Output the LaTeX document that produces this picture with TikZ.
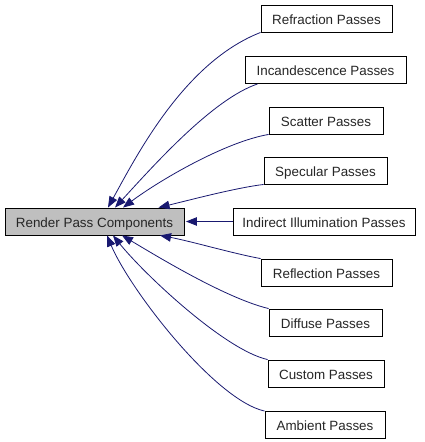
\documentclass[tikz,border=0pt]{standalone}
\usepackage{fontspec}
\setmainfont{Liberation Sans}
\usetikzlibrary{arrows.meta}
\definecolor{edgeblue}{HTML}{191970}
\definecolor{boxgray}{HTML}{BFBFBF}
\begin{document}
\begin{tikzpicture}[x=1pt,y=-1pt,
  box/.style={draw=black,line width=0.9pt,fill=white,inner sep=0pt,minimum height=27pt,
    text height=11.5pt,text depth=0pt,
    font=\fontsize{13.4}{15}\selectfont,text=black!85},
  mainbox/.style={box,fill=boxgray},
  edge/.style={draw=edgeblue,line width=0.8pt,-{Triangle[length=11pt,width=8.5pt]}}]
\useasboundingbox (0,0) rectangle (424,442);
\node[mainbox,minimum width=179pt] (main) at (94.5,221.5) {Render Pass Components};
\node[box,minimum width=131pt] (refr) at (326.5,18.5) {Refraction Passes};
\node[box,minimum width=161pt] (inc) at (325.5,70) {Incandescence Passes};
\node[box,minimum width=114pt] (scat) at (326,120.5) {Scatter Passes};
\node[box,minimum width=123pt] (spec) at (325.5,170.5) {Specular Passes};
\node[box,minimum width=182pt] (ind) at (324,221.5) {Indirect Illumination Passes};
\node[box,minimum width=131pt] (refl) at (326.5,272.5) {Reflection Passes};
\node[box,minimum width=113pt] (diff) at (325.5,322.5) {Diffuse Passes};
\node[box,minimum width=116pt] (cust) at (326,373.5) {Custom Passes};
\node[box,minimum width=120pt] (amb) at (325,425) {Ambient Passes};
\draw[edge] (refr.south west) .. controls (185,62) and (138,153) .. ([xshift=13.5]main.north);
\draw[edge] ([xshift=13]inc.south west) .. controls (213,99) and (155,164) .. ([xshift=20.5]main.north);
\draw[edge] (scat.south west) .. controls (225,142) and (160,180) .. ([xshift=28.5]main.north);
\draw[edge] (spec.south west) .. controls (235,188) and (190,200) .. ([xshift=64]main.north);
\draw[edge] (ind.west) -- ([xshift=1.5]main.east);
\draw[edge] (refl.north west) .. controls (235,254) and (190,241) .. ([xshift=65.5]main.south);
\draw[edge] (diff.north west) .. controls (225,298) and (155,255) .. ([xshift=27.5]main.south);
\draw[edge] (cust.north west) .. controls (225,350) and (145,275) .. ([xshift=18.5]main.south);
\draw[edge] (amb.north west) .. controls (215,400) and (130,290) .. ([xshift=12.5]main.south);
\end{tikzpicture}
\end{document}
